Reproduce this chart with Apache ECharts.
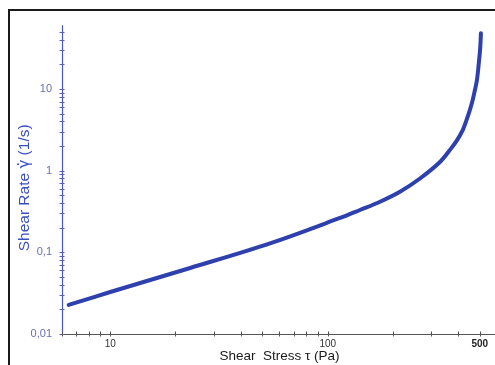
<!DOCTYPE html>
<html>
<head>
<meta charset="utf-8">
<script src="https://cdn.jsdelivr.net/npm/echarts@6/dist/echarts.min.js"></script>
<style>html,body{margin:0;padding:0;background:#fff;}#c{width:495px;height:365px;}</style>
</head>
<body>
<div id="c"></div>
<script>
// Shear stress (Pa) and shear rate (1/s)
var stress = [6.44, 10, 23.3, 54.3, 113.9, 140.7, 173.9, 214.8, 265.5, 328, 368.5, 392.6, 418.4, 441.0, 460.1, 475.0, 485.2, 495.5, 502.3, 506];
var rate   = [0.0227, 0.0327, 0.0644, 0.129, 0.264, 0.331, 0.418, 0.554, 0.805, 1.282, 1.87, 2.36, 3.2, 4.695, 6.774, 9.78, 12.96, 21.54, 31.98, 48.6];

var xLabels = [10, 100, 500];
var xTicks = [6, 7, 8, 9, 10, 20, 30, 40, 50, 60, 70, 80, 90, 100, 200, 300, 400, 500, 600];
var yLabels = [0.01, 0.1, 1, 10];
var yTicks = [0.01, 0.02, 0.03, 0.04, 0.05, 0.06, 0.07, 0.08, 0.09, 0.1, 0.2, 0.3, 0.4, 0.5, 0.6, 0.7, 0.8, 0.9, 1, 2, 3, 4, 5, 6, 7, 8, 9, 10, 20, 30, 40, 50];

var xMin = 6, xMax = 600, yMin = 0.01, yMax = 60;

var data = stress.map(function (s, i) { return [s, rate[i]]; });

var chart = echarts.init(document.getElementById('c'), null, {renderer: 'canvas'});
var base = 'Liberation Sans, Arial, sans-serif';
chart.setOption({
  animation: false,
  backgroundColor: '#fff',
  graphic: [{
    type: 'rect', silent: true, z: 100,
    shape: {x: 9, y: 10, width: 600, height: 500},
    style: {fill: null, stroke: '#1a1a1a', lineWidth: 2}
  }],
  grid: {left: 62, top: 25.7, width: 435, height: 308.3, containLabel: false, outerBoundsMode: 'none'},
  xAxis: [{
    type: 'log', min: xMin, max: xMax, gridIndex: 0,
    name: 'Shear  Stress \u03c4 (Pa)', nameLocation: 'middle', nameGap: 15, nameMoveOverlap: false,
    nameTextStyle: {fontFamily: base, fontSize: 13.5, color: '#1a1a1a', verticalAlign: 'top'},
    axisLine: {show: true, lineStyle: {color: '#555', width: 1}},
    axisTick: {show: true, inside: false, length: 2.5, lineStyle: {color: '#555'}, customValues: xTicks},
    axisLabel: {show: true, margin: 5, fontFamily: base, fontSize: 10, color: '#333', customValues: xLabels,
      formatter: function (v) { return v === 500 ? '{b|500}' : String(v); },
      rich: {b: {fontFamily: base, fontSize: 10, fontWeight: 'bold', color: '#222'}}},
    splitLine: {show: false}
  }, {
    type: 'log', min: xMin, max: xMax, gridIndex: 0, position: 'bottom',
    axisLine: {show: false},
    axisTick: {show: true, inside: true, length: 2.5, lineStyle: {color: '#555'}, customValues: xTicks},
    axisLabel: {show: false},
    splitLine: {show: false}
  }],
  yAxis: [{
    type: 'log', min: yMin, max: yMax, gridIndex: 0,
    name: 'Shear Rate {g|\u03b3\u0307} (1/s)', nameLocation: 'middle', nameGap: 29, nameRotate: 90, nameMoveOverlap: false,
    nameTextStyle: {fontFamily: base, fontSize: 15.5, color: '#3b4fc4', padding: [0, 16, 0, 0],
      rich: {g: {fontFamily: 'DejaVu Sans', fontSize: 15, color: '#3b4fc4'}}},
    axisLine: {show: true, lineStyle: {color: '#4a56c6', width: 1.2}},
    axisTick: {show: true, inside: false, length: 2.5, lineStyle: {color: '#5560c0'}, customValues: yTicks},
    axisLabel: {show: true, margin: 10, fontFamily: base, fontSize: 11, color: '#6670b4', customValues: yLabels,
      formatter: function (v) { return String(v).replace('.', ','); }},
    splitLine: {show: false}
  }, {
    type: 'log', min: yMin, max: yMax, gridIndex: 0, position: 'left',
    axisLine: {show: false},
    axisTick: {show: true, inside: true, length: 2.5, lineStyle: {color: '#5560c0'}, customValues: yTicks},
    axisLabel: {show: false},
    splitLine: {show: false}
  }],
  series: [{
    type: 'line', xAxisIndex: 0, yAxisIndex: 0,
    data: data, smooth: 0.35, showSymbol: false, symbol: 'none',
    lineStyle: {color: '#2e40ae', width: 4, cap: 'round', join: 'round'}
  }]
});
</script>
</body>
</html>
